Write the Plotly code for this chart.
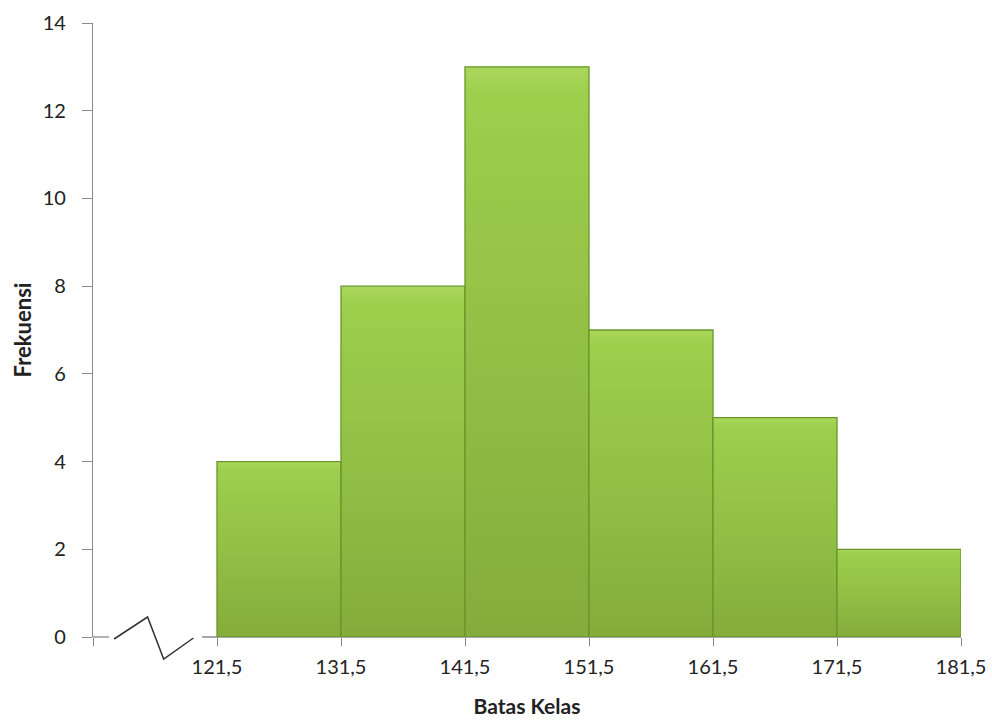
import plotly.graph_objects as go

# Class boundaries and frequencies
batas_bawah = [121.5, 131.5, 141.5, 151.5, 161.5, 171.5]
frekuensi = [4, 8, 13, 7, 5, 2]
lebar_kelas = 10

x_ticks = [111.5, 121.5, 131.5, 141.5, 151.5, 161.5, 171.5, 181.5]
x_labels = ["", "121,5", "131,5", "141,5", "151,5", "161,5", "171,5", "181,5"]
y_ticks = [0, 2, 4, 6, 8, 10, 12, 14]

fig = go.Figure()

# Each histogram bar is a filled polygon so it can carry a vertical gradient
for b, f in zip(batas_bawah, frekuensi):
    a = b + lebar_kelas
    fig.add_trace(go.Scatter(
        x=[b, b, a, a, b],
        y=[0, f, f, 0, 0],
        mode="lines",
        fill="toself",
        fillgradient=dict(
            type="vertical",
            start=0, stop=f,
            colorscale=[[0, "#84ac3c"], [0.5, "#92c045"], [0.95, "#9dce4c"], [1, "#aad85c"]],
        ),
        line=dict(color="#6a962a", width=1.3),
        hoveron="fills",
        text=f"{b:.1f}".replace(".", ",") + " – " + f"{a:.1f}".replace(".", ",") + f": {f}",
        hoverinfo="text",
    ))

axis_col = "#8a8a8a"
plot_h = 724 - 23 - 87
def py(px):
    # pixel offset from the x axis line to paper fraction
    return -px / plot_h

shapes = [
    # short axis stub before the break
    dict(type="line", xref="x", yref="paper", x0=111.5, x1=112.8, y0=0, y1=0,
         line=dict(color=axis_col, width=1.3)),
    # zigzag axis break
    dict(type="path", xref="x", yref="paper",
         path=f"M 113.2 {py(2)} L 115.9 {py(-20)} L 117.2 {py(22)} L 119.6 {py(1)}",
         line=dict(color="#333333", width=1.5)),
    # axis segment after the break
    dict(type="line", xref="x", yref="paper", x0=120.3, x1=181.5, y0=0, y1=0,
         line=dict(color=axis_col, width=1.3), layer="below"),
]

fig.update_layout(
    width=992, height=724,
    margin=dict(l=93, r=31, t=23, b=87),
    paper_bgcolor="white", plot_bgcolor="white",
    showlegend=False,
    font=dict(family="Lato, Open Sans, sans-serif", size=20, color="#222222"),
    shapes=shapes,
    xaxis=dict(
        range=[111.5, 181.5],
        automargin=False,
        tickmode="array", tickvals=x_ticks, ticktext=x_labels,
        ticks="outside", ticklen=8, tickcolor=axis_col, tickwidth=1.3,
        showline=False, showgrid=False, zeroline=False,
        ticklabelstandoff=4,
        title=dict(text="<b>Batas Kelas</b>", standoff=22,
                   font=dict(size=21, color="#222222")),
    ),
    yaxis=dict(
        range=[0, 14],
        automargin=False,
        tickmode="array", tickvals=y_ticks,
        ticks="outside", ticklen=10, tickcolor=axis_col, tickwidth=1.3,
        showline=True, linecolor=axis_col, linewidth=1.3,
        showgrid=False, zeroline=False,
        ticklabelstandoff=12,
        title=dict(text="<b>Frekuensi</b>", standoff=4,
                   font=dict(size=22, color="#222222")),
    ),
)

fig.write_html("out.html")
